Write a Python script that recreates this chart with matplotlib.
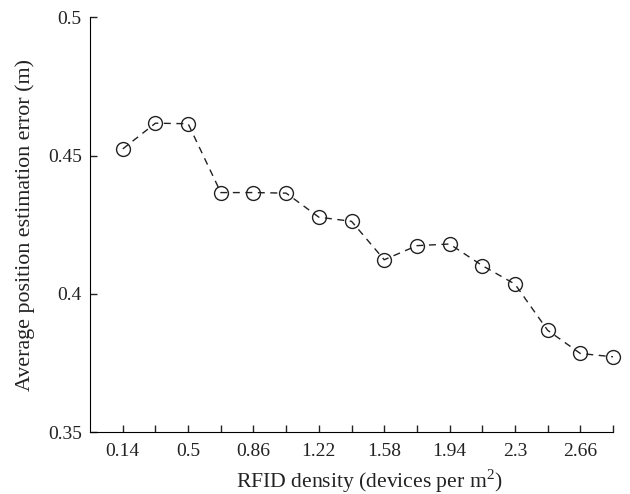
import matplotlib
matplotlib.use("Agg")
import matplotlib.pyplot as plt

plt.rcParams['font.family'] = ['Liberation Serif', 'DejaVu Serif']
plt.rcParams['mathtext.fontset'] = 'custom'
plt.rcParams['mathtext.rm'] = 'Liberation Serif'

density = ['0.14', '0.32', '0.5', '0.68', '0.86', '1.04', '1.22', '1.4',
           '1.58', '1.76', '1.94', '2.12', '2.3', '2.48', '2.66', '2.84']
error = [0.4524, 0.4617, 0.4615, 0.4366, 0.4366, 0.4364, 0.4277, 0.4262,
         0.4123, 0.4174, 0.4180, 0.4102, 0.4035, 0.3868, 0.3784, 0.3772]
yticks = [0.35, 0.4, 0.45, 0.5]

fig = plt.figure(figsize=(6.3, 4.94), dpi=100)
ax = fig.add_axes([0.143, 0.1255, 0.830, 0.8395])

pos = list(range(1, len(density) + 1))
ax.plot(pos, error, linestyle=(0, (5, 4)), color='#222222', linewidth=1.0,
        marker='o', markersize=10, markerfacecolor='none',
        markeredgecolor='#222222', markeredgewidth=1.0, clip_on=False)

ax.set_xlim(0, len(density))
ax.set_ylim(0.35, 0.5)
ax.set_xticks(pos)
ax.set_xticklabels([d if i % 2 == 0 else '' for i, d in enumerate(density)])
ax.set_yticks(yticks)
ax.set_yticklabels(['0.35', '0.4', '0.45', '0.5'])

ax.spines['top'].set_visible(False)
ax.spines['right'].set_visible(False)
ax.tick_params(direction='in', length=5, width=1, labelsize=14, colors='#222222')
ax.tick_params(axis='x', pad=8)
ax.tick_params(axis='y', pad=6)

ax.set_xlabel('RFID density (devices per m$^2$)', fontsize=15.6, va='baseline',
              color='#222222')
ax.xaxis.set_label_coords(0.533, -0.1345)
ax.set_ylabel('Average position estimation error (m)', fontsize=15.8, va='center',
              color='#222222')
ax.yaxis.set_label_coords(-0.124, 0.5)

fig.savefig('out.png', dpi=100)
